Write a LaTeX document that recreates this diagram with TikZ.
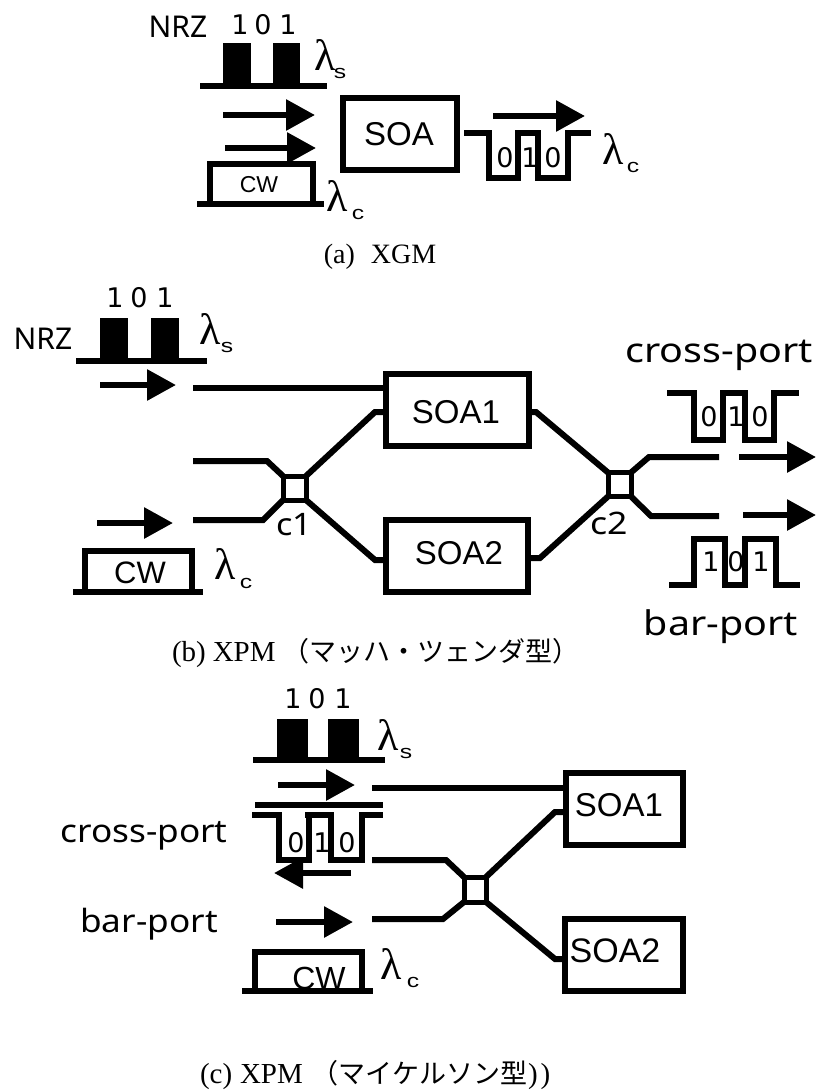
\documentclass[tikz,border=0pt]{standalone}
\usepackage{fontspec}
\usetikzlibrary{arrows.meta}
\setmainfont{Liberation Serif}
\newfontfamily\cjkf{Noto Sans CJK JP}
\newfontfamily\gothf{Noto Sans}
\newfontfamily\arialf{Liberation Sans}
\newfontfamily\lamf{Liberation Serif}
\newfontfamily\digf{DejaVu Sans}
\newcommand{\fs}[1]{\fontsize{#1}{#1}\selectfont}
\tikzset{
  every node/.style={inner sep=0pt,outer sep=0pt},
  wire/.style={line width=6pt,line join=miter,line cap=butt},
  wave/.style={line width=6pt,line join=miter,line cap=butt},
  arr/.style={line width=6pt,-{Triangle[length=29pt,width=30pt]}},
  pulse/.style={fill=black,draw=none,minimum width=#1,minimum height=40pt},
  soabox/.style={draw,line width=6pt},
  smallbox/.style={draw,line width=5pt,minimum width=23pt,minimum height=24pt},
  bit/.style={font=\digf\fs{27}},
  nrz/.style={font=\gothf\fs{30}},
  soatext/.style={font=\arialf\fs{33}},
  lam/.style={font=\lamf\fs{44}},
  lamsub/.style={font=\arialf\fs{19}},
  port/.style={font=\gothf\fs{34},anchor=base},
  captext/.style={font=\fs{29},anchor=base west},
  jp/.style={font=\cjkf\fs{27},anchor=base west},
  cplabel/.style={font=\gothf\fs{31}},
}
\newcommand{\lsub}[1]{\scalebox{1.3}[1]{#1}}
\begin{document}
\begin{tikzpicture}[x=1pt,y=-1pt]
\useasboundingbox (0,0) rectangle (816,1090);
\fill[white] (0,0) rectangle (816,1090);

% ---------- (a) XGM ----------
\node[nrz] (aNRZ) at (178,27) {NRZ};
\node[bit] (aB1) at (240,25) {1};
\node[bit] (aB2) at (263,25) {0};
\node[bit] (aB3) at (288,25) {1};
\node[pulse=28pt] (aP1) at (237,63) {};
\node[pulse=27pt] (aP2) at (286.5,63) {};
\draw[wave] (200,86) -- (327,86);
\node[lam] (aLs) at (325,55) {λ};
\node[lamsub] (aLsS) at (340,73) {\lsub{s}};
\coordinate (aA1s) at (223,115); \coordinate (aA1e) at (315,115);
\draw[arr] (aA1s) -- (aA1e);
\coordinate (aA2s) at (225,148); \coordinate (aA2e) at (316,148);
\draw[arr] (aA2s) -- (aA2e);
\draw[wave] (209.5,204) -- (209.5,164) -- (313,164) -- (313,204);
\draw[wave] (197,204) -- (324,204);
\node[font=\arialf\fs{23}] (aCW) at (259,185) {CW};
\node[lam] (aLc) at (337,196) {λ};
\node[lamsub] (aLcS) at (358,214) {\lsub{c}};
\node[soabox,minimum width=114pt,minimum height=72pt] (aSOA) at (400,134) {};
\node[soatext] (aSOAt) at (399,134) {SOA};
\draw[wave] (464,133) -- (489,133) -- (489,178) -- (518,178) -- (518,133) -- (538,133) -- (538,178) -- (568,178) -- (568,133) -- (591,133);
\node[bit] (aO1) at (505,158) {0};
\node[bit] (aO2) at (530,158) {1};
\node[bit] (aO3) at (553,158) {0};
\coordinate (aA3s) at (493,116); \coordinate (aA3e) at (585,116);
\draw[arr] (aA3s) -- (aA3e);
\node[lam] (aLo) at (613,149) {λ};
\node[lamsub] (aLoS) at (633,167) {\lsub{c}};
\node[captext,font=\fs{28},anchor=base] (aCap) at (380,263) {(a)\hspace{0.57em}XGM};

% ---------- (b) XPM Mach-Zehnder ----------
\node[nrz] (bNRZ) at (43,339) {NRZ};
\node[bit] (bB1) at (115,298) {1};
\node[bit] (bB2) at (139,298) {0};
\node[bit] (bB3) at (165,298) {1};
\node[pulse=28pt] (bP1) at (114,338) {};
\node[pulse=28pt] (bP2) at (165,338) {};
\draw[wave] (76,361) -- (207,361);
\node[lam] (bLs) at (210,329) {λ};
\node[lamsub] (bLsS) at (227,347) {\lsub{s}};
\coordinate (bA1s) at (100,385); \coordinate (bA1e) at (176,385);
\draw[arr] (bA1s) -- (bA1e);
\node[soabox,minimum width=143pt,minimum height=72pt] (bS1) at (457.5,410) {};
\node[soatext] (bS1t) at (456,412) {SOA1};
\node[soabox,minimum width=142pt,minimum height=72pt] (bS2) at (457,556) {};
\node[soatext] (bS2t) at (459,553) {SOA2};
\node[smallbox] (bC1) at (294.5,488) {};
\node[smallbox] (bC2) at (619.5,484.5) {};
\node[cplabel] (bC1t) at (294,525) {\scalebox{1.1}[1]{c1}};
\node[cplabel] (bC2t) at (609,523) {\scalebox{1.15}[1]{c2}};
\coordinate (bIn0) at (193,388);
\draw[wire] (bIn0) -- (bS1.west |- bIn0);
\coordinate (bIn1) at (193,461); \coordinate (bIn1b) at (267,461);
\draw[wire] (bIn1) -- (bIn1b) -- (bC1.north west);
\coordinate (bIn2) at (193,520); \coordinate (bIn2b) at (263,520);
\draw[wire] (bIn2) -- (bIn2b) -- (bC1.south west);
\coordinate (bU1) at (375,412); \coordinate (bL1) at (375,560);
\draw[wire] (bC1.north east) -- (bU1) -- (bS1.west |- bU1);
\draw[wire] (bC1.south east) -- (bL1) -- (bS2.west |- bL1);
\coordinate (bU2) at (536,412); \coordinate (bL2) at (540,558);
\draw[wire] (bS1.east |- bU2) -- (bU2) -- (bC2.north west);
\draw[wire] (bS2.east |- bL2) -- (bL2) -- (bC2.south west);
\coordinate (bO1a) at (649,457); \coordinate (bO1b) at (719,457);
\draw[wire] (bC2.north east) -- (bO1a) -- (bO1b);
\coordinate (bO2a) at (651,516); \coordinate (bO2b) at (719,516);
\draw[wire] (bC2.south east) -- (bO2a) -- (bO2b);
\coordinate (bA3s) at (739,457); \coordinate (bA3e) at (816,457);
\draw[arr] (bA3s) -- (bA3e);
\coordinate (bA4s) at (743,515); \coordinate (bA4e) at (816,515);
\draw[arr] (bA4s) -- (bA4e);
\coordinate (bA2s) at (97,523); \coordinate (bA2e) at (173,523);
\draw[arr] (bA2s) -- (bA2e);
\draw[wave] (85,592) -- (85,551) -- (192,551) -- (192,592);
\draw[wave] (73,592) -- (203,592);
\node[font=\arialf\fs{31}] (bCW) at (140,573) {CW};
\node[lam] (bLc) at (225,564) {λ};
\node[lamsub] (bLcS) at (246,583) {\lsub{c}};
\node[port] (bCross) at (719,362) {\scalebox{1.16}[1]{cross-port}};
\draw[wave] (667,393) -- (694,393) -- (694,440) -- (723,440) -- (723,393) -- (745,393) -- (745,440) -- (774,440) -- (774,393) -- (799,393);
\node[bit] (bX1) at (709,417) {0};
\node[bit] (bX2) at (736,417) {1};
\node[bit] (bX3) at (760,417) {0};
\draw[wave] (669,585) -- (694,585) -- (694,539) -- (725,539) -- (725,585) -- (745,585) -- (745,539) -- (776,539) -- (776,585) -- (800,585);
\node[bit] (bY1) at (711,562) {1};
\node[bit] (bY2) at (736,562) {0};
\node[bit] (bY3) at (761,562) {1};
\node[port] (bBar) at (721,635) {\scalebox{1.16}[1]{bar-port}};
\node[captext] (bCap) at (172,661) {(b)\hspace{0.24em}XPM};
\node[jp] (bCapJ) at (282,661) {（マッハ・ツェンダ型）};

% ---------- (c) XPM Michelson ----------
\node[bit] (cB1) at (293,699) {1};
\node[bit] (cB2) at (317,699) {0};
\node[bit] (cB3) at (343,699) {1};
\node[pulse=31pt] (cP1) at (292.5,739) {};
\node[pulse=31pt] (cP2) at (343.5,739) {};
\draw[wave] (253,760) -- (385,760);
\node[lam] (cLs) at (388,735) {λ};
\node[lamsub] (cLsS) at (406,753) {\lsub{s}};
\coordinate (cA1s) at (278,785); \coordinate (cA1e) at (355,785);
\draw[arr] (cA1s) -- (cA1e);
\draw[wave] (255,805) -- (383,805);
\draw[wave] (252,815) -- (279,815) -- (279,860) -- (309,860) -- (309,815);
\draw[wave] (305,815) -- (331,815) -- (331,860) -- (362,860) -- (362,815) -- (383,815);
\node[bit] (cX1) at (296,843) {0};
\node[bit] (cX2) at (322,843) {1};
\node[bit] (cX3) at (347,843) {0};
\coordinate (cA2s) at (351,873); \coordinate (cA2e) at (274,873);
\draw[arr] (cA2s) -- (cA2e);
\node[port] (cCross) at (144,842) {\scalebox{1.1}[1]{\fs{32}cross-port}};
\node[port] (cBar) at (149,932) {\scalebox{1.1}[1]{\fs{32}bar-port}};
\coordinate (cA3s) at (276,922); \coordinate (cA3e) at (353,922);
\draw[arr] (cA3s) -- (cA3e);
\draw[wave] (255,991) -- (255,952) -- (362,952) -- (362,991);
\node[font=\arialf\fs{32}] (cCW) at (319,978) {CW};
\draw[wave] (242,991) -- (373,991);
\node[lam] (cLc) at (391,964) {λ};
\node[lamsub] (cLcS) at (413,982) {\lsub{c}};
\node[soabox,minimum width=117pt,minimum height=72pt] (cS1) at (624.5,809) {};
\node[soatext] (cS1t) at (619,805) {SOA1};
\node[soabox,minimum width=118pt,minimum height=72pt] (cS2) at (624,955) {};
\node[soatext,font=\arialf\fs{34}] (cS2t) at (615,951) {SOA2};
\node[smallbox,minimum width=22pt,minimum height=25pt] (cC) at (475,889.5) {};
\coordinate (cIn0) at (372,788);
\draw[wire] (cIn0) -- (cS1.west |- cIn0);
\coordinate (cIn1) at (372,860); \coordinate (cIn1b) at (446,860);
\draw[wire] (cIn1) -- (cIn1b) -- (cC.north west);
\coordinate (cIn2) at (372,919); \coordinate (cIn2b) at (443,919);
\draw[wire] (cIn2) -- (cIn2b) -- (cC.south west);
\coordinate (cU) at (555,812); \coordinate (cL) at (555,959);
\draw[wire] (cC.north east) -- (cU) -- (cS1.west |- cU);
\draw[wire] (cC.south east) -- (cL) -- (cS2.west |- cL);
\node[captext] (cCap) at (200,1083) {(c)\hspace{0.27em}XPM};
\node[jp] (cCapJ) at (311,1083) {（マイケルソン型};
\node[captext] (cCapE) at (528,1083) {)\hspace{0.1em})};
\end{tikzpicture}
\end{document}
